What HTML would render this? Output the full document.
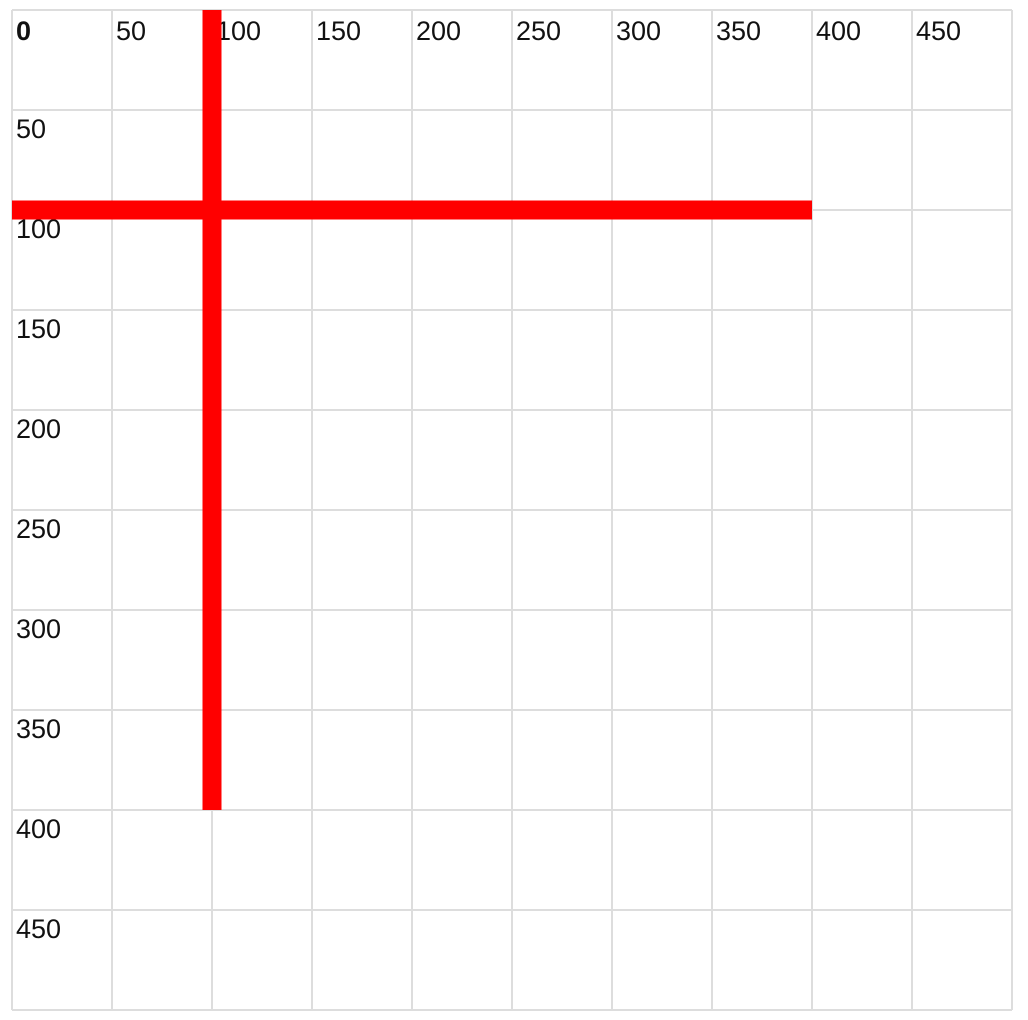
<!DOCTYPE html>
<html><head><meta charset="utf-8"><style>
html,body{margin:0;padding:0;background:#fff;width:1028px;height:1020px;overflow:hidden}
svg text{font-family:"Liberation Sans",Arial,sans-serif;font-size:27px;fill:#111}
</style></head><body>
<svg id="chart" width="1028" height="1020" viewBox="0 0 1028 1020" xmlns="http://www.w3.org/2000/svg"></svg>
<script>
const xTicks = [0,50,100,150,200,250,300,350,400,450];
const yTicks = [0,50,100,150,200,250,300,350,400,450];
const hLine = {x1:0, x2:400, y:100};
const vLine = {x:100, y1:0, y2:400};
const ox = 12, oy = 10, k = 2, maxV = 500;
const sx = v => ox + v*k, sy = v => oy + v*k;
const svg = document.getElementById('chart');
const NS = 'http://www.w3.org/2000/svg';
function mk(t, a){const e=document.createElementNS(NS,t);for(const n in a)e.setAttribute(n,a[n]);svg.appendChild(e);return e;}
for (let v=0; v<=maxV; v+=50){
  const g1 = mk('line',{x1:sx(v),x2:sx(v),y1:sy(0),y2:sy(maxV),stroke:'#ddd','stroke-width':2});
  
  
  const g2 = mk('line',{x1:sx(0),x2:sx(maxV),y1:sy(v),y2:sy(v),stroke:'#ddd','stroke-width':2});
  
  
}
xTicks.forEach(v=>{
  const t = mk('text',{x:sx(v)+4,y:sy(0)+30});
  t.textContent = v;
  if(v===0){t.setAttribute('font-weight','bold');}
  
  
});
yTicks.forEach(v=>{
  if(v===0) return;
  const t = mk('text',{x:sx(0)+4,y:sy(v)+28});
  t.textContent = v;
  
  
});
const h = mk('line',{x1:sx(hLine.x1),x2:sx(hLine.x2),y1:sy(hLine.y),y2:sy(hLine.y),stroke:'#ff0000','stroke-width':19});


const v = mk('line',{x1:sx(vLine.x),x2:sx(vLine.x),y1:sy(vLine.y1),y2:sy(vLine.y2),stroke:'#ff0000','stroke-width':19});


</script>
</body></html>
